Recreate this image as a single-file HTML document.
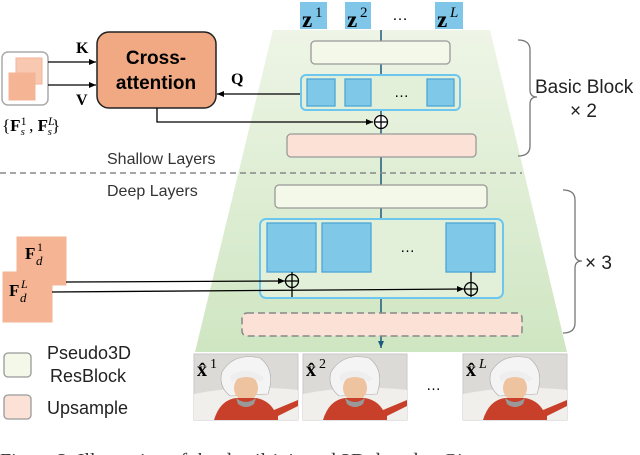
<!DOCTYPE html>
<html><head><meta charset="utf-8"><style>
html,body{margin:0;padding:0;background:#fff;width:640px;height:455px;overflow:hidden}
svg{display:block}
text{font-family:"Liberation Sans",sans-serif}
.s{font-family:"Liberation Serif",serif}
</style></head><body>
<svg width="640" height="455" viewBox="0 0 640 455" xmlns="http://www.w3.org/2000/svg">
<defs>
<marker id="a" markerWidth="8" markerHeight="8" refX="7" refY="4" orient="auto" markerUnits="userSpaceOnUse"><path d="M0,1 L7,4 L0,7 z" fill="#000"/></marker>
<marker id="b" markerWidth="8" markerHeight="8" refX="7" refY="4" orient="auto" markerUnits="userSpaceOnUse"><path d="M0,1 L7,4 L0,7 z" fill="#1e5a7a"/></marker>
<linearGradient id="g" x1="0" y1="0" x2="0" y2="1"><stop offset="0" stop-color="#eef5e6"/><stop offset="1" stop-color="#cfe6c2"/></linearGradient>
<g id="img">
<rect x="0" y="0" width="104" height="66" fill="#dcdad6" stroke="#c8c8c8"/>
<path d="M0,40 Q50,30 104,36 L104,66 L0,66z" fill="#f1efec"/>
<path d="M28,18 Q40,-2 66,4 Q82,16 74,40 L36,42 Q24,32 28,18z" fill="#f4f4f4" stroke="#aaa" stroke-width="0.6"/>
<ellipse cx="52" cy="34" rx="12" ry="13" fill="#eec3a0"/>
<path d="M36,22 Q52,10 70,24 L66,28 Q52,18 38,28z" fill="#eeeeee"/>
<path d="M20,66 Q26,46 42,44 L62,44 Q74,46 80,56 L104,46 L104,52 L84,62 L84,66z" fill="#c8402a"/>
<path d="M42,44 Q52,52 62,44 L60,50 Q52,56 44,50z" fill="#999"/>
</g>
</defs>
<path d="M273,30 L490,30 L567,352 L195,352 Z" fill="url(#g)"/>
<rect x="300" y="2" width="27" height="27" fill="#7fc6e8"/>
<rect x="345" y="2" width="26" height="27" fill="#7fc6e8"/>
<rect x="435" y="2" width="28" height="27" fill="#7fc6e8"/>
<text class="s" x="302" y="27" font-size="23" font-weight="bold">z</text><text class="s" x="315" y="17" font-size="15">1</text>
<text class="s" x="347" y="27" font-size="23" font-weight="bold">z</text><text class="s" x="360" y="17" font-size="15">2</text>
<text x="392" y="20" font-size="16">…</text>
<text class="s" x="437" y="27" font-size="23" font-weight="bold">z</text><text class="s" x="450" y="17" font-size="15" font-style="italic">L</text>
<line x1="381" y1="30" x2="381" y2="348" stroke="#1e5a7a" stroke-width="1.5" marker-end="url(#b)"/>
<rect x="311" y="41" width="139" height="23" rx="4" fill="#f4f8e8" stroke="#999" stroke-width="1.3"/>
<rect x="301" y="75" width="159" height="35" rx="5" fill="#e2f0da" stroke="#6cc6ee" stroke-width="2"/>
<rect x="307" y="79" width="28" height="27" fill="#80c8e8" stroke="#4aa6d8" stroke-width="1.3"/>
<rect x="345" y="79" width="26" height="27" fill="#80c8e8" stroke="#4aa6d8" stroke-width="1.3"/>
<rect x="427" y="79" width="27" height="27" fill="#80c8e8" stroke="#4aa6d8" stroke-width="1.3"/>
<text x="394" y="97" font-size="15">…</text>
<rect x="287" y="134" width="189" height="23" rx="4" fill="#fce2d6" stroke="#999" stroke-width="1.3"/>
<circle cx="381" cy="122" r="6.5" fill="#fff" stroke="#000" stroke-width="1.3"/>
<line x1="374.5" y1="122" x2="387.5" y2="122" stroke="#000" stroke-width="1.3"/><line x1="381" y1="115.5" x2="381" y2="128.5" stroke="#000" stroke-width="1.3"/>
<rect x="97" y="32" width="119" height="76" rx="12" fill="#f0a983" stroke="#222" stroke-width="1.5"/>
<text x="156" y="64" font-size="19" font-weight="bold" text-anchor="middle">Cross-</text>
<text x="156" y="89" font-size="19" font-weight="bold" text-anchor="middle">attention</text>
<rect x="2" y="52" width="46" height="53" rx="6" fill="#fff" stroke="#aaa" stroke-width="1.5"/>
<rect x="16" y="58" width="26" height="26" fill="#f8c9b0" stroke="#f3b496"/>
<rect x="9" y="73" width="26" height="27" fill="#f5b594" stroke="#f3b496"/>
<line x1="48" y1="62" x2="96" y2="62" stroke="#000" stroke-width="1.3" marker-end="url(#a)"/>
<line x1="48" y1="85" x2="96" y2="85" stroke="#000" stroke-width="1.3" marker-end="url(#a)"/>
<text class="s" x="76" y="53" font-size="16" font-weight="bold">K</text>
<text class="s" x="76" y="105" font-size="16" font-weight="bold">V</text>
<line x1="300" y1="94" x2="217" y2="94" stroke="#000" stroke-width="1.3" marker-end="url(#a)"/>
<text class="s" x="231" y="84" font-size="16" font-weight="bold">Q</text>
<polyline points="157,108 157,122 373,122" fill="none" stroke="#000" stroke-width="1.3" marker-end="url(#a)"/>
<text class="s" x="2" y="131" font-size="17">{<tspan font-weight="bold">F</tspan><tspan font-size="12" dy="-6">1</tspan><tspan font-size="11" font-style="italic" dx="-6" dy="10">s</tspan><tspan dy="-4"> , </tspan><tspan font-weight="bold">F</tspan><tspan font-size="12" font-style="italic" dy="-6">L</tspan><tspan font-size="11" font-style="italic" dx="-7" dy="10">s</tspan><tspan dy="-4">}</tspan></text>
<text x="107" y="164" font-size="16" fill="#333">Shallow Layers</text>
<line x1="0" y1="173" x2="522" y2="173" stroke="#888" stroke-width="1.5" stroke-dasharray="6,4"/>
<text x="107" y="196" font-size="16" fill="#333">Deep Layers</text>
<path d="M518,40 Q530,40 530,50 L530,90 Q530,97 537,97 Q530,97 530,104 L530,146 Q530,156 518,156" fill="none" stroke="#777" stroke-width="1.3"/>
<text x="535" y="93" font-size="19" fill="#222">Basic Block</text>
<text x="570" y="117" font-size="19" fill="#222">× 2</text>
<path d="M563,190 Q575,190 575,200 L575,254 Q575,261 582,261 Q575,261 575,268 L575,323 Q575,333 563,333" fill="none" stroke="#777" stroke-width="1.3"/>
<text x="585" y="269" font-size="19" fill="#222">× 3</text>
<rect x="275" y="185" width="212" height="23" rx="4" fill="#f4f8e8" stroke="#999" stroke-width="1.3"/>
<rect x="260" y="219" width="243" height="79" rx="6" fill="#e2f0da" stroke="#6cc6ee" stroke-width="2"/>
<rect x="267" y="223" width="49" height="49" fill="#80c8e8" stroke="#4aa6d8" stroke-width="1.3"/>
<rect x="322" y="223" width="49" height="49" fill="#80c8e8" stroke="#4aa6d8" stroke-width="1.3"/>
<rect x="446" y="223" width="49" height="49" fill="#80c8e8" stroke="#4aa6d8" stroke-width="1.3"/>
<text x="400" y="252" font-size="15">…</text>
<line x1="292" y1="272" x2="292" y2="297" stroke="#000" stroke-width="1.3"/>
<line x1="471" y1="272" x2="471" y2="297" stroke="#000" stroke-width="1.3"/>
<rect x="242" y="313" width="280" height="23" rx="5" fill="#fce2d6" stroke="#888" stroke-width="1.5" stroke-dasharray="7,4"/>
<rect x="17" y="237" width="49" height="48" fill="#f5b594" stroke="#f3b496"/>
<rect x="3" y="272" width="49" height="50" fill="#f5b594" stroke="#f3b496"/>
<text class="s" x="25" y="259" font-size="17" font-weight="bold">F</text><text class="s" x="37" y="251" font-size="12">1</text><text class="s" x="36" y="265" font-size="13" font-style="italic">d</text>
<text class="s" x="9" y="296" font-size="17" font-weight="bold">F</text><text class="s" x="21" y="288" font-size="12" font-style="italic">L</text><text class="s" x="20" y="302" font-size="13" font-style="italic">d</text>
<line x1="66" y1="282" x2="285" y2="281" stroke="#000" stroke-width="1.3" marker-end="url(#a)"/>
<line x1="52" y1="292" x2="464" y2="289" stroke="#000" stroke-width="1.3" marker-end="url(#a)"/>
<circle cx="292" cy="281" r="6.5" fill="none" stroke="#000" stroke-width="1.3"/><line x1="285.5" y1="281" x2="298.5" y2="281" stroke="#000" stroke-width="1.3"/>
<circle cx="471" cy="289" r="6.5" fill="none" stroke="#000" stroke-width="1.3"/><line x1="464.5" y1="289" x2="477.5" y2="289" stroke="#000" stroke-width="1.3"/>
<rect x="4" y="353" width="27" height="24" rx="4" fill="#f4f8e8" stroke="#999" stroke-width="1.3"/>
<rect x="4" y="395" width="27" height="24" rx="4" fill="#fce2d6" stroke="#999" stroke-width="1.3"/>
<text x="47" y="359" font-size="18" fill="#222">Pseudo3D</text>
<text x="50" y="382" font-size="18" fill="#222">ResBlock</text>
<text x="47" y="414" font-size="18" fill="#222">Upsample</text>
<use href="#img" transform="translate(194,354)"/>
<use href="#img" transform="translate(303,354)"/>
<use href="#img" transform="translate(463,354)"/>
<text class="s" x="197" y="376" font-size="20" font-weight="bold">x̂</text><text class="s" x="210" y="368" font-size="14">1</text>
<text class="s" x="306" y="376" font-size="20" font-weight="bold">x̂</text><text class="s" x="319" y="368" font-size="14">2</text>
<text class="s" x="466" y="376" font-size="20" font-weight="bold">x̂</text><text class="s" x="479" y="368" font-size="14" font-style="italic">L</text>
<text x="426" y="390" font-size="15">…</text>
<text class="s" x="0" y="467" font-size="20" fill="#333">Figure 3:  Illustration of the detail-injected 3D decoder. Gi</text>
</svg>
</body></html>
